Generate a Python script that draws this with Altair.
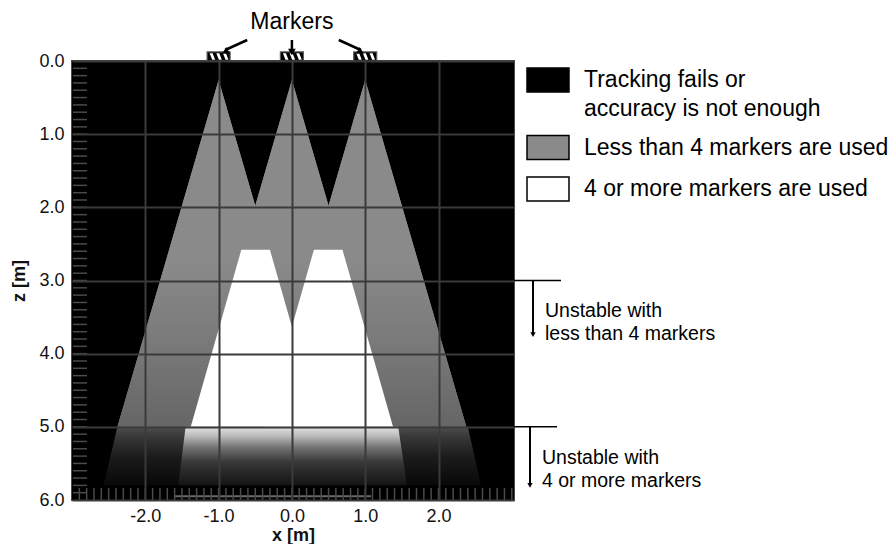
import altair as alt
import pandas as pd

FONT = "Liberation Sans"

# ---- axes / scales ----
x_domain = [-3.0, 3.03]
z_domain = [0.0, 6.0]
x_ticks = [-2.0, -1.0, 0.0, 1.0, 2.0]
z_ticks = [0.0, 1.0, 2.0, 3.0, 4.0, 5.0, 6.0]
minor_z = [round(0.1 * i, 1) for i in range(1, 60)]
minor_x = [round(-2.9 + 0.1 * i, 1) for i in range(0, 60)]

# ---- legend categories ----
categories = [
    "Tracking fails or accuracy is not enough",
    "Less than 4 markers are used",
    "4 or more markers are used",
]
category_colors = ["#000000", "#8a8a8a", "#ffffff"]

# ---- markers and their visibility cones ----
marker_x = [-1.0, 0.0, 1.0]
cone_apex_z = 0.26
cone_base_z = 5.0
cone_base_halfwidth = 1.38

# ---- region where 4 or more markers are used (two overlapping pieces) ----
white_piece = ["left", "left", "right", "right"]
white_z = [2.58, 5.0, 2.58, 5.0]
white_xl = [-0.69, -1.38, 0.30, -0.39]
white_xr = [-0.30, 0.39, 0.69, 1.38]

# ---- unstable (noisy) band below z = 5 ----
noise_z = [5.0, 5.8]
outer_noise_xl = [-2.38, -2.57]
outer_noise_xr = [2.40, 2.58]
inner_noise_xl = [-1.45, -1.55]
inner_noise_xr = [1.45, 1.57]
bottom_line_z = [5.95]
bottom_line_x0 = [-1.6]
bottom_line_x1 = [1.08]

# ---- "Markers" callout arrows ----
arrow_from_x = [-0.61, 0.0, 0.64]
arrow_to_x = [-0.91, 0.0, 0.94]

# ---- right-hand annotations ----
annot_z = [3.0, 5.0]
annot_arrow_end_z = [3.74, 5.80]
annot_line1 = ["Unstable with", "Unstable with"]
annot_line2 = ["less than 4 markers", "4 or more markers"]
annot_line1_z = [3.42, 5.42]
annot_line2_z = [3.73, 5.74]

W, H = 442, 439

xs = alt.Scale(domain=x_domain, nice=False, zero=False)
zs = alt.Scale(domain=z_domain, reverse=True, nice=False, zero=False)

label_expr = "datum.value < 0 ? '-' + format(-datum.value, '.1f') : format(datum.value, '.1f')"
x_axis = alt.Axis(values=x_ticks, labelExpr=label_expr, title="x [m]", grid=True, ticks=False, domain=False,
                  gridColor="#3a3a3a", gridWidth=2, labelFont=FONT, labelFontSize=18, labelColor="#111",
                  labelPadding=7, titleFont=FONT, titleFontSize=18, titleFontWeight="bold", titleColor="#111",
                  titlePadding=1, zindex=1)
y_axis = alt.Axis(values=z_ticks, labelExpr=label_expr, title="z [m]", grid=True, ticks=False, domain=False,
                  gridColor="#3a3a3a", gridWidth=2, labelFont=FONT, labelFontSize=18, labelColor="#111",
                  labelPadding=8, titleFont=FONT, titleFontSize=18, titleFontWeight="bold", titleColor="#111",
                  titlePadding=10, zindex=1)


def X(f):
    return alt.X(f, type="quantitative", scale=xs, axis=x_axis)


def X2(f):
    return alt.X2(f)


def Y(f):
    return alt.Y(f, type="quantitative", scale=zs, axis=y_axis)


legend = alt.Legend(
    title=None, orient="none", legendX=454, legendY=-3, direction="vertical",
    symbolType="M-1,-0.5714H1V0.5714H-1Z", symbolSize=1764,
    symbolStrokeColor="#000000", symbolStrokeWidth=1.5, symbolOpacity=1,
    labelFont=FONT, labelFontSize=23, labelColor="#000000", labelOffset=14,
    labelLimit=600, rowPadding=4.5, padding=0,
    labelExpr="datum.label == 'Tracking fails or accuracy is not enough' ? ['Tracking fails or', 'accuracy is not enough'] : datum.label",
)
color = alt.Color("cat:N", scale=alt.Scale(domain=categories, range=category_colors), legend=legend)

# ---- data tables ----
bg = pd.DataFrame({"x0": [x_domain[0]], "x1": [x_domain[1]], "z0": [z_domain[0]], "z1": [z_domain[1]],
                   "cat": [categories[0]]})
cone_rows = []
for i, c in enumerate(marker_x):
    cone_rows.append({"cone": i, "z": cone_apex_z, "xl": c, "xr": c, "cat": categories[1]})
    cone_rows.append({"cone": i, "z": cone_base_z, "xl": c - cone_base_halfwidth,
                      "xr": c + cone_base_halfwidth, "cat": categories[1]})
cones = pd.DataFrame(cone_rows)
white = pd.DataFrame({"piece": white_piece, "z": white_z, "xl": white_xl, "xr": white_xr,
                      "cat": [categories[2]] * 4})
outer = pd.DataFrame({"z": noise_z, "xl": outer_noise_xl, "xr": outer_noise_xr})
inner = pd.DataFrame({"z": noise_z, "xl": inner_noise_xl, "xr": inner_noise_xr})
bline = pd.DataFrame({"z": bottom_line_z, "x0": bottom_line_x0, "x1": bottom_line_x1})
mz = pd.DataFrame({"z": minor_z})
mx = pd.DataFrame({"x": minor_x})
mk = pd.DataFrame({"x": marker_x})
arr = pd.DataFrame({"x0": arrow_from_x, "x1": arrow_to_x})
lbl = pd.DataFrame({"x": [0.0], "t": ["Markers"]})
ann = pd.DataFrame({"z": annot_z, "z2": annot_arrow_end_z, "t1": annot_line1, "t2": annot_line2,
                    "z1t": annot_line1_z, "z2t": annot_line2_z})


def grad(stops):
    return alt.Gradient(gradient="linear", x1=0, x2=0, y1=0, y2=1,
                        stops=[alt.GradientStop(color=c, offset=o) for o, c in stops])


layers = []
layers.append(alt.Chart(bg).mark_rect().encode(
    x=X("x0"), x2=X2("x1"), y=Y("z0"), y2=alt.Y2("z1"), color=color))
layers.append(alt.Chart(cones).mark_area(orient="horizontal").encode(
    y=Y("z"), x=X("xl"), x2=X2("xr"), detail="cone:N", color=color))
layers.append(alt.Chart(cones).mark_area(orient="horizontal", color=grad(
    [(0, "#8a8a8a"), (0.52, "#8a8a8a"), (0.75, "#7a7a7a"), (1, "#666666")])).encode(
    y=Y("z"), x=X("xl"), x2=X2("xr"), detail="cone:N"))
layers.append(alt.Chart(outer).mark_area(orient="horizontal", color=grad(
    [(0, "#505050"), (0.15, "#3a3a3a"), (0.5, "#1c1c1c"), (1, "#080808")])).encode(
    y=Y("z"), x=X("xl"), x2=X2("xr")))
layers.append(alt.Chart(inner).mark_area(orient="horizontal", color=grad(
    [(0, "#e2e2e2"), (0.15, "#bdbdbd"), (0.35, "#747474"), (0.6, "#383838"), (1, "#141414")])).encode(
    y=Y("z"), x=X("xl"), x2=X2("xr")))
layers.append(alt.Chart(white).mark_area(orient="horizontal").encode(
    y=Y("z"), x=X("xl"), x2=X2("xr"), detail="piece:N", color=color))
layers.append(alt.Chart(bline).mark_rule(color="#6a6a6a", strokeWidth=2).encode(
    x=X("x0"), x2=X2("x1"), y=Y("z")))
# inner minor ticks
layers.append(alt.Chart(mz).mark_rule(color="#4a4a4a", strokeWidth=1.5).encode(
    y=Y("z"), x=alt.value(1), x2=alt.value(15)))
layers.append(alt.Chart(mx).mark_rule(color="#4a4a4a", strokeWidth=1.5).encode(
    x=X("x"), y=alt.value(H - 12), y2=alt.value(H)))
# markers (hatched boxes above the plot)
layers.append(alt.Chart(mk).mark_point(
    shape="M-1,-0.4H1V0.4H-1Z", size=529, filled=True, fill="#000000", stroke="#5a5a5a",
    strokeWidth=1.2, opacity=1).encode(x=X("x"), y=alt.value(-4.5)))
layers.append(alt.Chart(mk).mark_point(
    shape="M-0.78,-0.28L-0.52,-0.28L-0.3,0.28L-0.56,0.28Z M-0.2,-0.28L0.06,-0.28L0.28,0.28L0.02,0.28Z "
          "M0.38,-0.28L0.64,-0.28L0.86,0.28L0.6,0.28Z",
    size=529, filled=True, fill="#ffffff", strokeWidth=0, opacity=1).encode(x=X("x"), y=alt.value(-4.5)))
# "Markers" label and arrows
layers.append(alt.Chart(lbl).mark_text(font=FONT, fontSize=23, color="#000", baseline="middle").encode(
    x=X("x"), y=alt.value(-39), text="t:N"))
layers.append(alt.Chart(arr).mark_rule(color="#000", strokeWidth=2.5).encode(
    x=X("x0"), x2=X2("x1"), y=alt.value(-21), y2=alt.value(-11)))
for i, ang in enumerate([241.5, 180.0, 118.5]):
    layers.append(alt.Chart(arr.iloc[[i]]).mark_point(
        shape="triangle-up", size=60, filled=True, color="#000", opacity=1, angle=ang).encode(
        x=X("x1"), y=alt.value(-9)))
# right annotations
for i, (xa, xt, xe) in enumerate([(461, 473, W + 47), (458, 470, W + 43)]):
    d = ann.iloc[[i]]
    layers.append(alt.Chart(d).mark_rule(color="#000", strokeWidth=1.5).encode(
        y=Y("z"), x=alt.value(W), x2=alt.value(xe)))
    layers.append(alt.Chart(d).mark_rule(color="#000", strokeWidth=2).encode(
        y=Y("z"), y2=alt.Y2("z2"), x=alt.value(xa)))
    layers.append(alt.Chart(d).mark_point(shape="triangle-down", size=28, filled=True, color="#000",
                                          opacity=1).encode(y=Y("z2"), x=alt.value(xa)))
    layers.append(alt.Chart(d).mark_text(font=FONT, fontSize=19.5, color="#000", align="left",
                                         baseline="middle").encode(y=Y("z1t"), x=alt.value(xt), text="t1:N"))
    layers.append(alt.Chart(d).mark_text(font=FONT, fontSize=19.5, color="#000", align="left",
                                         baseline="middle").encode(y=Y("z2t"), x=alt.value(xt), text="t2:N"))

chart = alt.layer(*layers).properties(
    width=W, height=H,
    autosize=alt.AutoSizeParams(type="none"),
    padding={"left": 64, "top": 53, "right": 374, "bottom": 44},
).configure(
    font=FONT, style={"guide-label": {"lineHeight": 29}}
).configure_view(
    fill="#000000", stroke="#4a4a4a", strokeWidth=2
)

chart.save("out.html", embed_options={"renderer": "svg", "actions": False})
